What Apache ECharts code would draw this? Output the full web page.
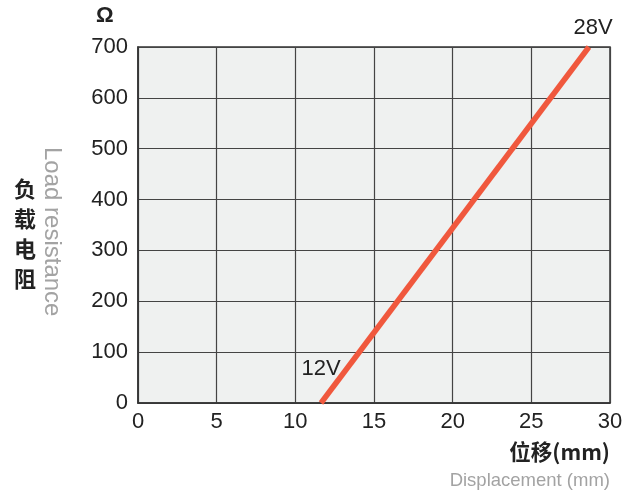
<!DOCTYPE html>
<html><head><meta charset="utf-8">
<script src="https://cdn.jsdelivr.net/npm/echarts@6/dist/echarts.min.js"></script>
<style>html,body{margin:0;padding:0;background:#fff}#c{width:638px;height:495px}</style>
</head><body><div id="c"></div>
<script>
const xTicks = [0, 5, 10, 15, 20, 25, 30];
const yTicks = [0, 100, 200, 300, 400, 500, 600, 700];
const lineX = [11.63, 28.66];
const lineY = [0, 700];
const voltageLabels = ['12V', '28V'];
const labelX = [11.63, 28.92];
const labelY = [67, 700];
const labelDy = [0, -19];

const chart = echarts.init(document.getElementById('c'));
const F = '"Liberation Sans", Arial, sans-serif';
const CJK = '"Noto Sans CJK SC", sans-serif';
chart.setOption({
  backgroundColor: '#fff',
  animation: false,
  grid: { left: 138, right: 28, top: 47, bottom: 92, show: true, backgroundColor: '#eff1f0', borderColor: '#333', borderWidth: 1.5 },
  xAxis: {
    type: 'value', min: xTicks[0], max: xTicks[xTicks.length - 1], interval: 5,
    axisLine: { show: true, lineStyle: { color: '#333', width: 1.5 } },
    axisTick: { show: false },
    axisLabel: { color: '#222', fontSize: 22, fontFamily: F, margin: 8 },
    splitLine: { show: true, lineStyle: { color: '#444', width: 1.2 } }
  },
  yAxis: {
    type: 'value', min: yTicks[0], max: yTicks[yTicks.length - 1], interval: 100,
    axisLine: { show: true, lineStyle: { color: '#333', width: 1.5 } },
    axisTick: { show: false },
    axisLabel: { color: '#222', fontSize: 22, fontFamily: F, margin: 10 },
    splitLine: { show: true, lineStyle: { color: '#444', width: 1.2 } }
  },
  series: [{
    type: 'line',
    data: lineX.map((x, i) => [x, lineY[i]]),
    symbol: 'none',
    lineStyle: { color: '#f0583d', width: 5.5 },
    markPoint: {
      symbol: 'circle', symbolSize: 0,
      label: { show: true, position: 'inside', color: '#222', fontSize: 22, fontFamily: F, formatter: p => p.name },
      data: voltageLabels.map((n, i) => ({ name: n, coord: [labelX[i], labelY[i]], label: { offset: [0, labelDy[i]] } }))
    }
  }],
  graphic: [
    { type: 'text', left: 96, top: 5, style: { text: 'Ω', font: 'bold 22px ' + F, fill: '#222' } },
    { type: 'text', left: 14, top: 174, style: { text: '负\n载\n电\n阻', font: 'bold 22px ' + CJK, fill: '#222', lineHeight: 30 } },
    { type: 'text', x: 64, y: 147, rotation: -Math.PI / 2, style: { text: 'Load resistance', font: '24px ' + F, fill: '#a3a3a3' } },
    { type: 'text', right: 28, top: 441, style: { text: '位移(mm)', font: 'bold 21.5px ' + CJK, fill: '#222' } },
    { type: 'text', right: 28, top: 471, style: { text: 'Displacement (mm)', font: '18.5px ' + F, fill: '#a3a3a3' } }
  ]
});
</script></body></html>
